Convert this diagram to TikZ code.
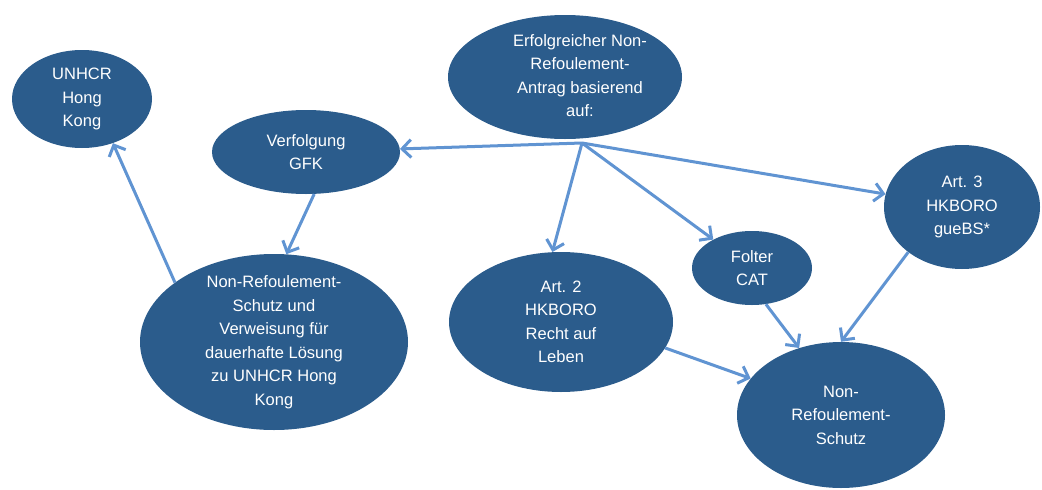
\documentclass[tikz,border=0pt]{standalone}
\usepackage{fontspec}
\setmainfont{Liberation Sans}
\usetikzlibrary{shapes.geometric, arrows.meta}
\definecolor{blobblue}{RGB}{43,92,140}
\definecolor{linkblue}{RGB}{96,148,210}

\begin{document}
\begin{tikzpicture}[x=1pt, y=-1pt,
		blob/.style={ellipse, fill=blobblue, text=white, inner sep=-30pt, align=center, font=\fontsize{16.5}{23.5}\selectfont},
		link/.style={draw=linkblue, line width=3pt, -{Straight Barb[length=9pt, width=18pt, line width=3pt]}}]
			\useasboundingbox (0,0) rectangle (1042,490);
			
			\node[blob, minimum width=140pt, minimum height=98pt] (unhcr) at (82,99) {UNHCR\\Hong\\Kong};
			\node[blob, minimum width=188pt, minimum height=84pt] (gfk) at (306,152) {Verfolgung\\GFK};
			\node[blob, minimum width=234pt, minimum height=124pt] (antrag) at (565,77) {\hspace*{30pt}\begin{tabular}{@{}c@{}}Erfolgreicher Non-\\Refoulement-\\Antrag basierend\\auf:\end{tabular}};
			\node[blob, minimum width=156pt, minimum height=124pt] (art3) at (962,207) {Art. 3\\HKBORO\\gueBS*};
			\node[blob, minimum width=120pt, minimum height=74pt] (cat) at (752,268) {Folter\\CAT};
			\node[blob, minimum width=224pt, minimum height=140pt] (art2) at (561,322) {Art. 2\\HKBORO\\Recht auf\\Leben};
			\node[blob, minimum width=268pt, minimum height=176pt] (verweis) at (274,342) {Non-Refoulement-\\Schutz und\\Verweisung für\\dauerhafte Lösung\\zu UNHCR Hong\\Kong};
			\node[blob, minimum width=208pt, minimum height=146pt] (schutz) at (841,415) {Non-\\Refoulement-\\Schutz};
			
			\coordinate (hub) at (582,143);
			
			\draw[link] (hub) -- (gfk);
			\draw[link] (hub) -- (art2.97);
			\draw[link] (hub) -- (cat);
			\draw[link] (hub) -- (art3);
			\draw[link] (gfk.281) -- (verweis.82);
			\draw[link] (verweis.149) -- (unhcr.305);
			\draw[link] (art2.346) -- (schutz.158);
			\draw[link] (cat.291) -- (schutz.122);
			\draw[link] (art3.220) -- (schutz.90);
		\end{tikzpicture}
\end{document}
